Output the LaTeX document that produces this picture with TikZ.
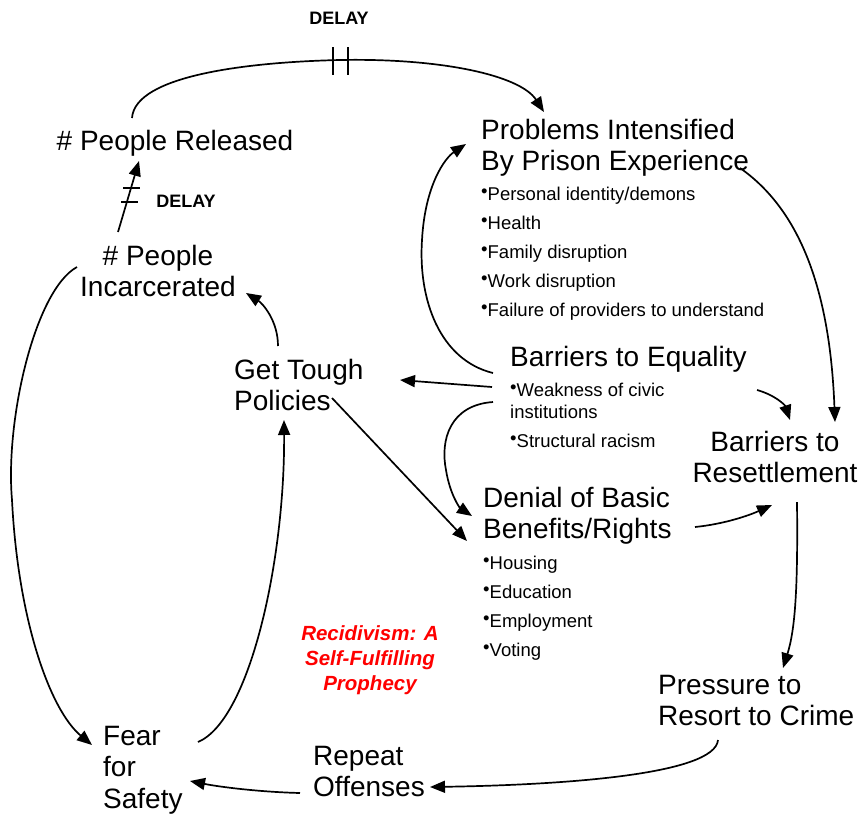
\documentclass[tikz,border=0pt]{standalone}
\usepackage{fontspec}
\setmainfont{Liberation Sans}
\usetikzlibrary{arrows.meta}
\newcommand{\mybul}{\raisebox{3pt}{•}}
\tikzset{
  lbl/.style={font=\fontsize{28}{31.5}\selectfont, inner sep=0pt},
  bul/.style={font=\fontsize{18.5}{29}\selectfont, inner sep=0pt, align=left, anchor=north west},
  dly/.style={font=\bfseries\fontsize{18}{20}\selectfont, inner sep=0pt, anchor=base},
  link/.style={line width=1.7pt, -{Triangle[length=15pt,width=12pt]}},
  delaymark/.style={line width=1.7pt},
}
\begin{document}
\begin{tikzpicture}[x=1pt,y=-1pt]
\useasboundingbox (0,0) rectangle (860,815);

% nodes
\node[lbl, anchor=base] (rel) at (175,150.5) {\# People Released};
\node[lbl, anchor=north, align=center] (inc) at (158,245) {\# People\\Incarcerated};
\node[lbl, anchor=north west, align=left] (tough) at (234,359) {Get Tough\\Policies};
\node[lbl, anchor=north west, align=left] (prob) at (481,119) {Problems Intensified\\By Prison Experience};
\node[bul] (probl) at (481,186.5) {\mybul Personal identity/demons\\\mybul Health\\\mybul Family disruption\\\mybul Work disruption\\\mybul Failure of providers to understand};
\node[lbl, anchor=base west] (equ) at (510,366.7) {Barriers to Equality};
\node[bul] (equl) at (510,382.5) {\mybul Weakness of civic\\[-7pt]institutions\\\mybul Structural racism};
\node[lbl, anchor=north, align=center] (res) at (775,431) {Barriers to\\Resettlement};
\node[lbl, anchor=north west, align=left] (den) at (483,487) {Denial of Basic\\Benefits/Rights};
\node[bul] (denl) at (483,555.5) {\mybul Housing\\\mybul Education\\\mybul Employment\\\mybul Voting};
\node[inner sep=0pt, anchor=north, align=center, text=red, font=\bfseries\itshape\fontsize{20.5}{25}\selectfont] (title) at (370,625) {Recidivism: A\\Self-Fulfilling\\Prophecy};
\node[lbl, anchor=north west, align=left] (pres) at (658,675) {Pressure to\\Resort to Crime};
\node[lbl, anchor=north west, align=left] (rep) at (313,746) {Repeat\\Offenses};
\node[lbl, anchor=north west, align=left] (fear) at (103,726) {Fear\\for\\Safety};
\node[dly] (d1) at (339,24) {DELAY};
\node[dly] (d2) at (186,207) {DELAY};

% connector end points
\coordinate (a1) at (132,118);  \coordinate (a2) at (544,112);
\coordinate (b1) at (118,232);  \coordinate (b2) at (139,161);
\coordinate (c1) at (77,267);   \coordinate (c2) at (92,745);
\coordinate (e1) at (198,742);  \coordinate (e2) at (284,420);
\coordinate (f1) at (278,346);  \coordinate (f2) at (246,293);
\coordinate (g1) at (492,387);  \coordinate (g2) at (400,380);
\coordinate (h1) at (332,398);  \coordinate (h2) at (467,541);
\coordinate (i1) at (493,373);  \coordinate (i2) at (466,144);
\coordinate (j1) at (493,402);  \coordinate (j2) at (472,516);
\coordinate (k1) at (757,390);  \coordinate (k2) at (790,420);
\coordinate (l1) at (740,168);  \coordinate (l2) at (835,422);
\coordinate (m1) at (695,527);  \coordinate (m2) at (772,505);
\coordinate (n1) at (797,502);  \coordinate (n2) at (783,668);
\coordinate (o1) at (718,740);  \coordinate (o2) at (430,787);
\coordinate (p1) at (300,793);  \coordinate (p2) at (190,781);

% connectors
\draw[link] (a1) .. controls (135,75) and (250,62) .. (340,60) .. controls (440,58) and (520,75) .. (a2);
\draw[delaymark] (333,47) -- (333,75) (348,47) -- (348,75);
\draw[link] (b1) -- (b2);
\draw[delaymark] (123,188) -- (140,188) (121,202) -- (138,202);
\draw[link] (c1) .. controls (35,290) and (5,420) .. (12,500) .. controls (18,620) and (50,710) .. (c2);
\draw[link] (e1) .. controls (250,720) and (285,560) .. (e2);
\draw[link] (f1) .. controls (278,320) and (262,303) .. (f2);
\draw[link] (g1) -- (g2);
\draw[link] (h1) -- (h2);
\draw[link] (i1) .. controls (440,360) and (418,300) .. (422,240) .. controls (425,185) and (445,158) .. (i2);
\draw[link] (j1) .. controls (450,405) and (440,440) .. (446,470) .. controls (450,495) and (460,508) .. (j2);
\draw[link] (k1) .. controls (775,395) and (785,405) .. (k2);
\draw[link] (l1) .. controls (800,210) and (830,290) .. (l2);
\draw[link] (m1) .. controls (725,524) and (750,515) .. (m2);
\draw[link] (n1) .. controls (798,590) and (795,630) .. (n2);
\draw[link] (o1) .. controls (715,775) and (560,785) .. (o2);
\draw[link] (p1) .. controls (260,792) and (220,787) .. (p2);
\end{tikzpicture}
\end{document}
